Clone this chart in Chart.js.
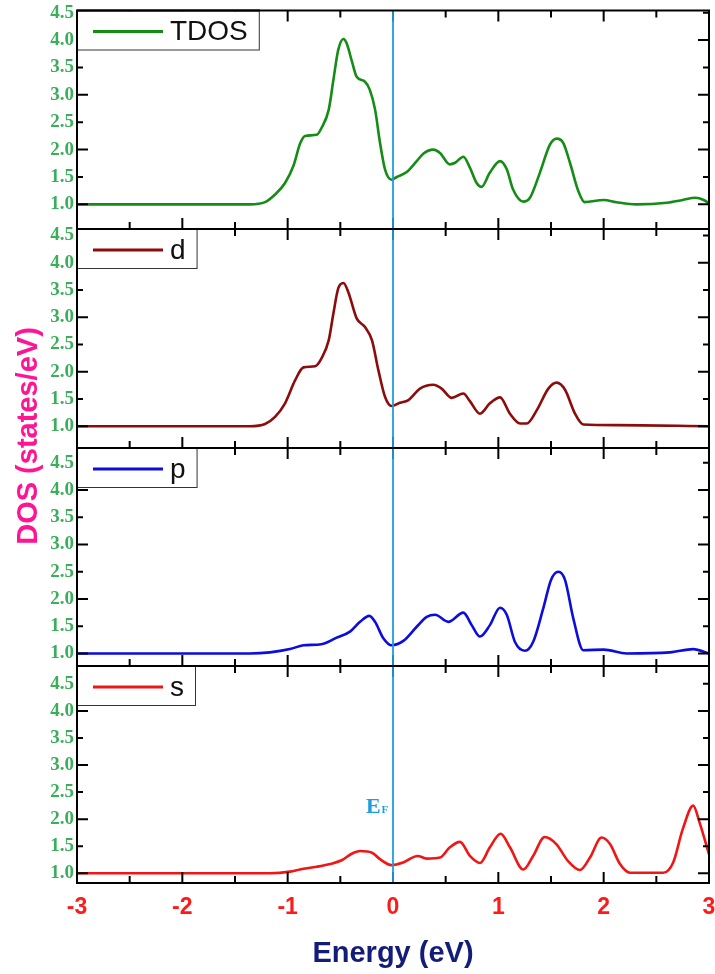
<!DOCTYPE html>
<html>
<head>
<meta charset="utf-8">
<script src="https://cdn.jsdelivr.net/npm/chart.js@4/dist/chart.umd.min.js"></script>
<style>
  html, body { margin: 0; padding: 0; background: #fff; }
  #wrap { position: relative; width: 715px; height: 974px; }
  #wrap canvas { position: absolute; left: 0; top: 0; }
</style>
</head>
<body>
<div id="wrap">
  <canvas id="c1" width="715" height="974"></canvas>
  <canvas id="c2" width="715" height="974"></canvas>
  <canvas id="c3" width="715" height="974"></canvas>
  <canvas id="c4" width="715" height="974"></canvas>
</div>
<script>
// ---------------- data ----------------
const xTickLabels = [-3, -2, -1, 0, 1, 2, 3];
const xMinorTicks = [-2.5, -1.5, -0.5, 0.5, 1.5, 2.5];
const yTickLabels = [1.0, 1.5, 2.0, 2.5, 3.0, 3.5, 4.0, 4.5];
const yMajorTicks = [1, 2, 3, 4];
const yMinorTicks = [1.5, 2.5, 3.5, 4.5];

const tdosE = [-3, -1.36, -1.215, -1.12, -1.025, -0.946, -0.88, -0.835, -0.725, -0.68, -0.61, -0.566, -0.52, -0.47, -0.44, -0.39, -0.345, -0.266, -0.22, -0.17, -0.123, -0.076, -0.013, 0.035, 0.13, 0.225, 0.29, 0.383, 0.446, 0.54, 0.59, 0.668, 0.73, 0.794, 0.84, 0.92, 1.016, 1.08, 1.14, 1.237, 1.30, 1.395, 1.49, 1.554, 1.617, 1.68, 1.76, 1.82, 2.0, 2.12, 2.31, 2.6, 2.75, 2.87, 2.95, 3.0];
const tdosV = [1.0, 1.0, 1.04, 1.18, 1.39, 1.70, 2.12, 2.25, 2.27, 2.39, 2.73, 3.27, 3.82, 4.02, 3.94, 3.61, 3.33, 3.24, 3.09, 2.73, 2.12, 1.64, 1.45, 1.50, 1.59, 1.79, 1.93, 2.0, 1.94, 1.73, 1.76, 1.87, 1.67, 1.39, 1.32, 1.58, 1.79, 1.64, 1.27, 1.05, 1.12, 1.58, 2.09, 2.2, 2.12, 1.76, 1.24, 1.04, 1.08, 1.04, 1.0, 1.03, 1.08, 1.12, 1.08, 1.02];

const dE = [-3, -1.36, -1.215, -1.12, -1.025, -0.93, -0.85, -0.74, -0.68, -0.61, -0.566, -0.52, -0.47, -0.424, -0.345, -0.266, -0.20, -0.139, -0.076, -0.013, 0.066, 0.146, 0.256, 0.383, 0.462, 0.557, 0.668, 0.73, 0.826, 0.92, 1.016, 1.11, 1.206, 1.27, 1.364, 1.475, 1.554, 1.633, 1.728, 1.807, 2.12, 3.0];
const dV = [1.0, 1.0, 1.04, 1.17, 1.42, 1.84, 2.08, 2.10, 2.24, 2.58, 3.07, 3.53, 3.63, 3.46, 2.98, 2.82, 2.58, 2.03, 1.54, 1.37, 1.43, 1.48, 1.69, 1.76, 1.69, 1.52, 1.60, 1.46, 1.23, 1.42, 1.53, 1.23, 1.05, 1.05, 1.29, 1.69, 1.80, 1.67, 1.23, 1.03, 1.02, 1.0];

const pE = [-3, -1.36, -1.168, -0.978, -0.85, -0.68, -0.535, -0.408, -0.313, -0.225, -0.17, -0.092, -0.013, 0.098, 0.225, 0.32, 0.40, 0.525, 0.668, 0.747, 0.826, 0.92, 1.016, 1.08, 1.158, 1.253, 1.33, 1.427, 1.50, 1.57, 1.633, 1.712, 1.807, 2.0, 2.218, 2.63, 2.85, 3.0];
const pV = [1.0, 1.0, 1.02, 1.08, 1.15, 1.17, 1.29, 1.40, 1.58, 1.69, 1.58, 1.28, 1.15, 1.23, 1.49, 1.67, 1.71, 1.58, 1.75, 1.52, 1.31, 1.52, 1.84, 1.71, 1.21, 1.05, 1.21, 1.83, 2.35, 2.50, 2.35, 1.64, 1.06, 1.07, 1.0, 1.02, 1.08, 1.0];

const sE = [-3, -1.36, -1.168, -0.978, -0.883, -0.725, -0.598, -0.487, -0.392, -0.313, -0.20, -0.123, -0.013, 0.098, 0.234, 0.32, 0.446, 0.54, 0.636, 0.73, 0.826, 0.92, 1.022, 1.11, 1.237, 1.33, 1.44, 1.55, 1.66, 1.775, 1.87, 1.98, 2.06, 2.155, 2.25, 2.566, 2.66, 2.75, 2.85, 2.91, 3.0];
const sV = [1.0, 1.0, 1.0, 1.03, 1.07, 1.12, 1.17, 1.24, 1.36, 1.41, 1.38, 1.26, 1.15, 1.20, 1.32, 1.27, 1.29, 1.48, 1.58, 1.32, 1.19, 1.48, 1.73, 1.48, 1.07, 1.32, 1.67, 1.54, 1.23, 1.06, 1.29, 1.66, 1.54, 1.17, 1.01, 1.01, 1.20, 1.81, 2.25, 1.94, 1.35];

const seriesLabels = ['TDOS', 'd', 'p', 's'];
const xTitle = 'Energy (eV)';
const yTitle = 'DOS (states/eV)';
const efLabel = ['E', 'F'];

// ---------------- styles ----------------
const W = 715, H = 974;
const panels = [
  { id: 'c1', E: tdosE, V: tdosV, color: '#158c15', top: 10.5, bottom: 229, yMin: 0.55, yMax: 4.54 },
  { id: 'c2', E: dE, V: dV, color: '#8c0c0c', top: 229, bottom: 448, yMin: 0.60, yMax: 4.62 },
  { id: 'c3', E: pE, V: pV, color: '#0c0cdc', top: 448, bottom: 666, yMin: 0.77, yMax: 4.77 },
  { id: 'c4', E: sE, V: sV, color: '#f01616', top: 666, bottom: 883, yMin: 0.82, yMax: 4.83 }
];
const EF_COLOR = '#1c9fdf';
const Y_TICK_COLOR = '#3aae5a';
const X_TICK_COLOR = '#ff1a1a';
const X_TITLE_COLOR = '#141c7a';
const Y_TITLE_COLOR = '#ff1493';

const decorPlugin = {
  id: 'decor',
  afterDatasetsDraw(chart, args, opts) {
    const { ctx, chartArea: a, scales: { x, y } } = chart;
    ctx.save();

    // inward ticks
    ctx.strokeStyle = '#000';
    ctx.lineWidth = 2;
    ctx.beginPath();
    const xt = (vals, len) => vals.forEach(v => {
      const px = x.getPixelForValue(v);
      ctx.moveTo(px, a.bottom); ctx.lineTo(px, a.bottom - len);
      ctx.moveTo(px, a.top); ctx.lineTo(px, a.top + len);
    });
    const yt = (vals, len) => vals.forEach(v => {
      const py = y.getPixelForValue(v);
      ctx.moveTo(a.left, py); ctx.lineTo(a.left + len, py);
      ctx.moveTo(a.right, py); ctx.lineTo(a.right - len, py);
    });
    xt(xTickLabels, 11); xt(xMinorTicks, 7);
    yt(yMajorTicks, 11); yt(yMinorTicks, 6);
    ctx.stroke();

    // Fermi level line
    const x0 = x.getPixelForValue(0);
    ctx.strokeStyle = EF_COLOR;
    ctx.lineWidth = 1.8;
    ctx.beginPath();
    ctx.moveTo(x0, a.top);
    ctx.lineTo(x0, a.bottom);
    ctx.stroke();

    // frame
    ctx.strokeStyle = '#000';
    ctx.lineWidth = 2;
    ctx.strokeRect(a.left, a.top, a.right - a.left, a.bottom - a.top);

    // legend box
    const label = opts.label;
    ctx.font = '28px "Liberation Sans", Arial, sans-serif';
    const tw = ctx.measureText(label).width;
    const boxW = 93 + tw + 11;
    const boxH = 39;
    ctx.fillStyle = '#fff';
    ctx.fillRect(a.left + 1, a.top + 1, boxW - 1, boxH - 1);
    ctx.strokeStyle = '#333';
    ctx.lineWidth = 1;
    ctx.strokeRect(a.left + 0.5, a.top + 0.5, boxW, boxH);
    ctx.strokeStyle = opts.color;
    ctx.lineWidth = 3;
    ctx.beginPath();
    ctx.moveTo(a.left + 16, a.top + 21);
    ctx.lineTo(a.left + 86, a.top + 21);
    ctx.stroke();
    ctx.fillStyle = '#111';
    ctx.textBaseline = 'middle';
    ctx.textAlign = 'left';
    ctx.fillText(label, a.left + 93, a.top + 22);

    ctx.strokeStyle = '#000';
    ctx.lineWidth = 2;
    ctx.beginPath();
    ctx.moveTo(a.left, a.top); ctx.lineTo(a.left, a.top + boxH + 1);
    ctx.moveTo(a.left, a.top); ctx.lineTo(a.left + boxW + 1, a.top);
    ctx.stroke();

    if (opts.last) {
      // E_F label
      ctx.fillStyle = EF_COLOR;
      ctx.textBaseline = 'alphabetic';
      ctx.font = 'bold 22px "Liberation Serif", "Times New Roman", serif';
      ctx.fillText(efLabel[0], 366, 813);
      ctx.font = 'bold 11px "Liberation Serif", "Times New Roman", serif';
      ctx.fillText(efLabel[1], 381.5, 813);
      // shared y title
      ctx.save();
      ctx.translate(37, 436);
      ctx.rotate(-Math.PI / 2);
      ctx.fillStyle = Y_TITLE_COLOR;
      ctx.font = 'bold 29px "Liberation Sans", Arial, sans-serif';
      ctx.textAlign = 'center';
      ctx.textBaseline = 'alphabetic';
      ctx.fillText(yTitle, 0, 0);
      ctx.restore();
    }
    ctx.restore();
  }
};

panels.forEach((p, i) => {
  const last = i === panels.length - 1;
  new Chart(document.getElementById(p.id), {
    type: 'line',
    data: {
      datasets: [{
        label: seriesLabels[i],
        data: p.E.map((e, k) => ({ x: e, y: p.V[k] })),
        borderColor: p.color,
        borderWidth: 2.6,
        pointRadius: 0,
        fill: false,
        cubicInterpolationMode: 'monotone'
      }]
    },
    options: {
      responsive: false,
      animation: false,
      devicePixelRatio: 1,
      layout: { padding: { left: 0, right: 6, top: p.top, bottom: last ? 0 : H - p.bottom } },
      plugins: {
        legend: { display: false },
        tooltip: { enabled: false },
        decor: { label: seriesLabels[i], color: p.color, last: last }
      },
      scales: {
        x: {
          type: 'linear',
          min: -3, max: 3,
          display: last,
          grid: { display: false, drawTicks: false },
          border: { display: false },
          afterBuildTicks: s => { s.ticks = xTickLabels.map(v => ({ value: v })); },
          ticks: {
            color: X_TICK_COLOR,
            padding: 11,
            maxRotation: 0,
            autoSkip: false,
            font: { family: '"Liberation Sans", Arial, sans-serif', size: 23, weight: 'bold' },
            callback: v => String(v)
          },
          title: {
            display: true,
            text: xTitle,
            color: X_TITLE_COLOR,
            padding: { top: 0, bottom: 3 },
            font: { family: '"Liberation Sans", Arial, sans-serif', size: 29, weight: 'bold' }
          },
          afterFit: s => { s.height = last ? H - 883 : 0; s.paddingLeft = 0; s.paddingRight = 0; }
        },
        y: {
          type: 'linear',
          min: p.yMin, max: p.yMax,
          grid: { display: false, drawTicks: false },
          border: { display: false },
          afterBuildTicks: s => { s.ticks = yTickLabels.map(v => ({ value: v })); },
          ticks: {
            color: Y_TICK_COLOR,
            padding: 3,
            autoSkip: false,
            font: { family: '"Liberation Serif", "Times New Roman", serif', size: 19, weight: 'bold' },
            callback: v => Number(v).toFixed(1)
          },
          afterFit: s => { s.width = 77; s.paddingTop = 0; s.paddingBottom = 0; }
        }
      }
    },
    plugins: [decorPlugin]
  });
});
</script>
</body>
</html>
